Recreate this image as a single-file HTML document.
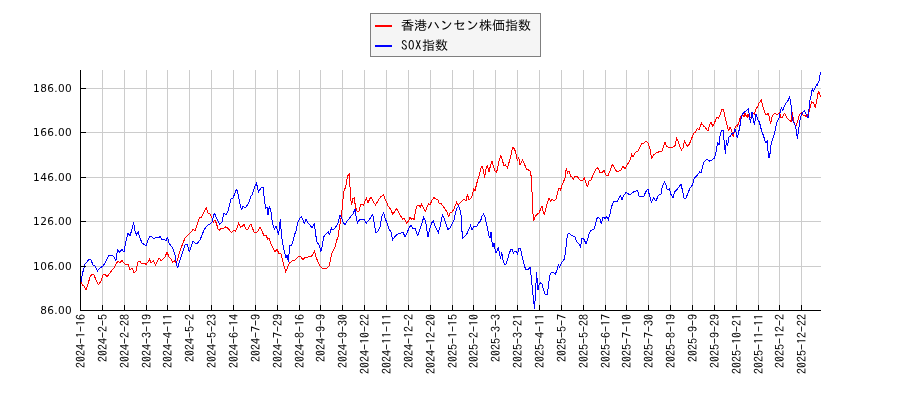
<!DOCTYPE html>
<html lang="ja"><head><meta charset="utf-8"><title>香港ハンセン株価指数 SOX指数</title>
<style>html,body{margin:0;padding:0;background:#fff}body{width:900px;height:400px;overflow:hidden}svg{display:block}.yl{font-family:"DejaVu Sans","Liberation Sans",sans-serif;font-size:10.5px;fill:#000;letter-spacing:0.36px}.xl{font-family:"IPAGothic","Liberation Mono","Noto Sans CJK JP",monospace;font-size:12px;fill:#000}.lg{font-family:"IPAGothic","Liberation Sans","Noto Sans CJK JP",sans-serif;font-size:13px;fill:#000}</style></head><body>
<svg width="900" height="400" viewBox="0 0 900 400">
<rect width="900" height="400" fill="#fff"/>
<path d="M102.50,70V310.5 M124.50,70V310.5 M146.50,70V310.5 M167.50,70V310.5 M189.50,70V310.5 M211.50,70V310.5 M233.50,70V310.5 M255.50,70V310.5 M277.50,70V310.5 M299.50,70V310.5 M320.50,70V310.5 M342.50,70V310.5 M364.50,70V310.5 M386.50,70V310.5 M408.50,70V310.5 M430.50,70V310.5 M452.50,70V310.5 M473.50,70V310.5 M495.50,70V310.5 M517.50,70V310.5 M539.50,70V310.5 M561.50,70V310.5 M583.50,70V310.5 M605.50,70V310.5 M626.50,70V310.5 M648.50,70V310.5 M670.50,70V310.5 M692.50,70V310.5 M714.50,70V310.5 M736.50,70V310.5 M758.50,70V310.5 M779.50,70V310.5 M801.50,70V310.5 M80.5,88.5H821 M80.5,132.5H821 M80.5,177.5H821 M80.5,221.5H821 M80.5,266.5H821" stroke="#cccccc" stroke-width="1" fill="none"/>
<path d="M80.4,281.0 L81.0,282.0 L82.6,285.0 L84.0,286.0 L86.0,290.0 L88.0,284.0 L90.0,277.0 L92.0,274.0 L94.0,275.0 L96.0,280.0 L98.4,284.6 L101.0,281.0 L103.0,275.0 L105.0,274.0 L107.0,277.0 L110.0,273.0 L112.0,270.0 L114.0,268.0 L116.0,264.0 L118.0,261.0 L120.0,262.6 L122.0,260.6 L124.0,263.0 L126.0,265.0 L128.0,264.0 L130.0,270.0 L132.0,268.0 L134.0,272.6 L136.0,271.0 L138.0,262.0 L140.0,261.4 L142.0,264.0 L144.0,263.0 L146.0,264.4 L148.0,262.0 L149.4,259.0 L151.0,263.0 L153.4,261.0 L155.4,265.0 L157.4,261.0 L159.0,258.0 L161.0,260.6 L163.0,259.0 L165.0,257.0 L167.0,252.0 L169.0,257.0 L171.0,259.0 L172.6,262.0 L174.6,261.0 L176.0,263.0 L177.4,260.0 L179.0,254.0 L181.0,248.0 L183.0,243.0 L185.0,238.0 L187.0,236.0 L189.0,234.0 L191.0,232.0 L193.0,229.4 L195.0,230.6 L197.4,224.0 L199.4,218.0 L201.4,217.0 L203.0,214.0 L205.0,210.0 L206.4,208.0 L208.0,213.0 L210.0,214.0 L212.0,218.0 L213.4,222.0 L215.0,220.0 L216.6,224.0 L218.0,229.0 L219.4,230.0 L221.4,228.0 L223.4,228.4 L225.4,227.0 L227.4,228.0 L229.4,230.0 L231.4,232.4 L233.4,230.4 L235.4,231.0 L237.4,227.0 L238.6,223.6 L240.6,227.0 L242.6,226.0 L244.0,224.4 L246.0,229.0 L248.0,229.0 L250.0,225.0 L251.4,224.4 L252.0,227.0 L254.0,232.0 L256.0,232.6 L258.0,231.0 L260.0,227.0 L262.0,231.0 L264.0,236.0 L266.0,235.0 L267.6,239.0 L269.0,238.0 L271.0,244.0 L273.0,248.0 L275.0,251.4 L277.0,249.4 L279.0,253.4 L281.0,254.0 L282.4,260.0 L284.0,266.0 L285.6,271.4 L287.0,269.0 L288.4,264.6 L290.0,262.6 L292.0,261.0 L295.0,260.0 L297.0,258.0 L299.0,256.0 L301.0,257.0 L303.0,260.0 L305.0,257.0 L307.0,258.0 L309.0,256.0 L311.0,257.0 L313.0,254.0 L314.4,251.0 L316.0,257.0 L318.0,262.0 L320.0,266.0 L322.0,268.0 L324.4,268.6 L327.0,268.0 L329.0,266.0 L330.4,260.0 L331.6,254.0 L333.0,251.0 L335.0,247.0 L336.4,241.0 L338.0,237.0 L339.0,230.0 L340.4,222.0 L341.6,215.0 L342.6,203.0 L344.0,191.0 L345.6,187.0 L347.6,176.0 L349.4,173.4 L350.0,187.0 L350.6,198.0 L351.6,205.0 L352.6,199.0 L354.4,198.0 L355.4,207.0 L357.0,211.0 L359.0,211.0 L360.4,205.0 L362.0,204.0 L363.6,205.0 L365.0,201.0 L366.4,198.0 L368.0,203.0 L369.6,199.0 L371.0,197.0 L373.0,201.0 L375.4,205.0 L377.4,202.0 L379.0,199.0 L381.0,196.6 L383.4,194.6 L385.0,199.0 L386.6,202.0 L388.0,206.0 L389.6,208.0 L391.0,210.0 L392.6,214.0 L394.4,212.0 L396.6,208.6 L398.6,212.0 L400.6,216.0 L402.6,219.0 L404.4,218.6 L406.4,223.0 L408.4,221.0 L410.0,217.4 L411.6,219.0 L413.0,218.0 L414.0,220.0 L415.6,210.0 L417.0,206.0 L419.0,205.0 L420.4,207.0 L421.6,204.0 L423.6,208.6 L425.6,211.4 L427.0,207.0 L428.6,204.0 L430.0,205.0 L432.0,200.0 L434.0,197.6 L436.0,199.0 L438.0,199.6 L439.4,204.0 L441.0,203.6 L443.0,206.0 L445.0,209.0 L447.0,212.0 L448.6,217.0 L450.0,213.0 L452.0,212.0 L454.0,209.0 L455.4,205.0 L456.6,202.4 L458.0,205.0 L460.0,203.0 L462.0,201.0 L464.0,199.0 L466.0,201.0 L467.4,194.4 L469.0,200.0 L471.0,198.0 L472.6,195.0 L473.6,188.0 L475.0,191.0 L476.6,184.0 L478.0,179.0 L479.4,175.0 L480.6,169.0 L482.0,166.4 L483.4,170.0 L484.6,178.0 L486.0,169.0 L487.4,165.6 L489.0,172.0 L490.6,165.0 L492.0,161.0 L493.4,166.0 L495.0,171.0 L496.6,172.4 L498.0,166.0 L499.4,159.0 L501.0,155.6 L502.6,161.0 L504.0,166.0 L505.6,165.0 L507.4,168.0 L508.6,164.0 L510.0,159.0 L511.4,153.0 L512.6,147.6 L514.4,148.4 L516.0,154.0 L517.4,161.0 L518.6,157.0 L520.0,165.0 L521.4,162.0 L522.6,160.0 L524.0,163.0 L525.6,167.0 L527.0,169.6 L528.6,170.0 L530.4,171.6 L531.4,178.0 L532.0,192.0 L532.6,204.0 L533.0,214.0 L533.6,220.6 L535.4,216.0 L537.0,214.4 L539.0,213.0 L541.0,208.0 L542.0,206.0 L543.0,211.0 L544.4,215.0 L546.0,208.0 L547.4,203.0 L549.0,198.4 L550.6,201.0 L552.0,199.0 L554.0,201.0 L556.0,199.0 L557.4,193.0 L559.0,188.0 L560.6,190.0 L562.0,185.0 L563.4,182.0 L565.0,178.0 L566.4,167.6 L567.4,173.0 L569.0,171.0 L570.6,176.0 L572.0,177.0 L573.4,179.0 L575.4,176.0 L577.0,176.0 L579.0,179.0 L581.0,181.0 L583.0,180.0 L584.4,178.0 L586.0,183.0 L587.4,187.0 L589.0,181.0 L591.0,180.0 L592.6,176.0 L594.0,173.0 L596.0,169.0 L598.0,167.6 L600.0,173.0 L602.0,172.4 L604.0,170.4 L606.0,175.0 L608.0,175.6 L610.0,171.0 L612.4,164.4 L614.4,168.0 L617.0,172.0 L619.0,171.0 L621.0,170.0 L623.0,166.0 L625.0,169.0 L627.0,165.0 L629.0,162.0 L630.4,159.0 L631.6,154.4 L633.0,157.0 L634.4,154.0 L636.0,152.0 L638.0,151.0 L640.0,147.0 L642.0,143.6 L644.0,143.0 L646.0,141.0 L648.0,143.0 L650.0,149.0 L651.6,158.0 L653.6,155.0 L656.0,153.0 L658.0,152.4 L660.0,151.0 L662.0,151.0 L663.6,146.0 L665.0,142.4 L666.6,146.0 L668.4,147.6 L670.4,147.0 L673.0,147.0 L675.0,145.6 L676.6,137.6 L678.0,141.0 L679.6,146.0 L681.4,150.0 L683.0,148.0 L684.4,141.0 L686.0,144.0 L687.6,146.4 L689.4,144.0 L691.0,140.0 L692.6,136.0 L694.0,133.0 L695.6,132.0 L697.4,128.4 L699.0,130.0 L700.4,126.0 L701.6,123.0 L703.4,126.0 L705.0,127.0 L706.6,129.6 L708.0,131.0 L709.6,125.0 L711.0,122.0 L712.6,126.0 L714.0,124.0 L715.6,120.0 L717.0,117.6 L718.4,118.4 L720.0,115.0 L721.6,110.0 L723.4,109.6 L724.6,115.0 L726.0,121.0 L727.4,127.0 L728.6,131.0 L730.0,127.0 L731.6,130.0 L733.4,137.0 L734.6,129.0 L736.1,125.6 L737.2,126.1 L738.3,123.9 L739.4,120.6 L740.6,116.7 L741.7,116.1 L742.8,114.4 L743.9,117.2 L745.0,113.3 L746.1,115.6 L747.2,117.2 L748.1,113.9 L748.9,116.7 L750.0,117.2 L751.1,118.3 L752.2,116.7 L753.3,113.3 L754.4,114.4 L755.6,110.0 L756.7,107.8 L757.8,106.7 L758.9,103.3 L760.0,101.7 L761.4,100.3 L761.7,102.2 L762.8,106.1 L764.1,110.0 L765.6,114.4 L766.7,115.0 L768.0,112.8 L768.9,115.0 L769.7,119.4 L770.6,124.4 L771.4,120.0 L772.2,116.1 L773.3,114.4 L774.8,113.3 L776.1,113.9 L777.2,115.0 L778.3,113.3 L779.4,112.8 L780.3,115.0 L781.1,117.8 L782.2,117.2 L783.3,115.6 L784.4,113.3 L785.6,115.0 L786.7,117.2 L787.8,118.9 L788.9,120.0 L790.2,120.0 L791.1,121.7 L791.7,115.6 L792.6,112.2 L793.0,116.7 L793.9,121.7 L795.0,125.0 L795.9,126.1 L797.0,123.3 L798.1,119.4 L799.2,115.6 L800.6,113.3 L801.7,112.2 L802.8,114.4 L803.9,116.1 L805.0,115.6 L806.1,116.7 L807.2,117.2 L808.3,113.3 L809.4,110.6 L810.6,105.6 L811.7,101.7 L812.8,102.2 L814.1,104.4 L815.2,107.8 L816.1,103.9 L817.0,99.4 L817.8,94.4 L818.6,91.4 L819.4,93.3 L820.3,96.1 L820.8,96.7" stroke="#ff0000" stroke-width="1" fill="none" stroke-linejoin="miter" stroke-miterlimit="3" shape-rendering="crispEdges"/>
<path d="M80.4,283.0 L81.0,282.0 L82.6,273.0 L85.0,264.0 L87.0,262.0 L89.0,259.0 L91.0,260.0 L93.0,265.0 L95.0,266.0 L97.4,271.0 L100.0,268.0 L103.0,266.0 L105.0,263.0 L107.0,259.0 L109.0,255.0 L112.0,255.0 L114.0,257.0 L116.0,260.6 L117.4,250.0 L119.4,252.0 L122.0,249.4 L124.0,252.0 L126.0,241.0 L128.0,233.0 L130.0,236.0 L132.0,229.0 L133.6,222.4 L135.0,231.0 L136.6,235.0 L138.2,232.0 L140.0,238.0 L142.0,243.0 L144.0,244.4 L146.0,245.6 L148.0,240.0 L150.0,236.0 L152.0,237.0 L154.0,239.0 L156.0,237.0 L158.0,238.0 L160.0,236.6 L162.0,240.0 L164.0,239.0 L166.0,241.0 L167.4,237.0 L169.0,243.0 L171.0,246.0 L173.0,248.6 L175.0,255.0 L176.4,263.0 L177.6,268.0 L179.0,263.0 L181.0,257.0 L183.0,251.0 L185.0,245.0 L187.0,244.0 L189.4,252.0 L191.0,247.0 L193.0,241.0 L195.0,243.0 L197.0,244.0 L200.0,240.0 L202.0,235.0 L204.0,230.0 L206.0,227.0 L208.0,225.0 L210.0,224.0 L212.0,222.0 L213.0,218.0 L214.4,213.0 L216.0,217.0 L217.4,220.0 L219.4,224.0 L222.0,222.0 L224.0,213.0 L226.0,215.0 L228.0,211.0 L230.0,203.0 L231.0,199.0 L233.0,198.0 L235.0,193.0 L236.6,189.0 L238.0,194.0 L239.4,201.0 L241.4,210.0 L243.0,206.0 L245.0,208.0 L247.4,205.0 L249.4,201.0 L251.0,196.0 L252.0,195.0 L254.0,189.0 L256.4,182.6 L258.4,192.0 L261.0,188.0 L263.0,187.0 L264.4,199.0 L265.6,208.0 L267.0,207.0 L268.0,215.0 L269.4,206.0 L271.0,212.0 L272.4,223.0 L274.4,229.0 L276.0,226.0 L277.4,230.0 L278.6,235.0 L280.4,219.0 L281.4,235.0 L283.0,245.0 L284.4,252.0 L286.0,258.0 L287.0,255.0 L288.4,262.0 L289.6,246.0 L291.6,245.0 L293.0,241.0 L294.4,235.0 L296.0,231.0 L297.6,223.0 L300.0,218.0 L301.6,217.0 L303.0,220.0 L304.4,224.0 L306.0,219.0 L308.0,223.0 L310.0,225.0 L312.0,228.0 L314.4,223.0 L315.4,233.0 L317.0,242.0 L319.0,245.0 L321.0,251.4 L322.4,245.0 L323.6,237.0 L325.0,235.0 L327.0,233.0 L328.4,232.0 L329.6,235.0 L331.4,228.0 L333.0,230.0 L335.0,228.0 L337.0,225.0 L338.4,222.0 L340.0,215.0 L341.6,218.0 L343.0,222.0 L345.0,225.0 L347.0,221.0 L349.0,219.0 L351.0,216.0 L353.0,214.0 L355.0,209.0 L356.0,216.0 L357.4,223.0 L359.4,220.0 L362.0,219.0 L364.0,219.4 L366.4,223.0 L369.0,220.0 L371.0,217.0 L372.6,214.0 L374.0,222.0 L376.0,233.0 L378.0,231.0 L380.0,227.0 L382.0,216.0 L383.6,212.6 L385.0,218.0 L387.0,223.0 L389.0,229.0 L391.0,232.0 L392.6,240.0 L394.4,237.0 L396.4,235.0 L398.4,234.0 L401.0,233.0 L403.0,232.0 L405.0,237.0 L407.0,233.0 L409.0,228.0 L411.0,225.0 L413.0,229.0 L415.0,228.0 L417.6,236.0 L420.0,229.0 L422.0,223.0 L423.6,217.4 L425.6,221.0 L426.6,229.0 L428.0,236.6 L430.0,228.0 L431.6,223.0 L433.4,221.0 L435.0,226.0 L436.6,229.0 L438.4,232.6 L440.0,227.0 L441.4,220.0 L442.6,214.6 L444.0,218.0 L446.0,224.0 L448.0,229.4 L450.0,228.0 L452.0,224.0 L454.0,220.0 L455.4,213.0 L457.0,208.0 L458.6,206.0 L460.0,210.0 L461.0,215.0 L461.6,227.0 L462.6,238.0 L464.6,236.6 L466.6,234.6 L468.0,231.0 L469.4,228.0 L470.6,225.4 L472.0,230.0 L473.6,226.6 L475.4,226.0 L477.0,226.0 L478.6,223.0 L480.6,221.0 L482.0,216.0 L483.6,214.0 L485.0,217.0 L486.0,222.0 L487.4,228.0 L489.0,236.0 L490.0,238.0 L491.0,232.0 L492.0,242.0 L493.0,247.4 L494.0,243.0 L495.0,248.6 L496.0,253.0 L497.4,250.0 L498.4,247.4 L499.4,253.0 L500.6,258.6 L501.6,252.0 L503.0,260.0 L504.4,264.0 L506.0,264.0 L507.4,260.0 L509.0,254.0 L510.6,250.0 L512.0,249.0 L513.4,253.0 L515.0,251.0 L516.4,252.0 L517.6,254.0 L519.0,248.0 L520.4,248.6 L521.6,254.0 L523.0,260.0 L524.4,266.0 L526.0,270.0 L528.0,269.4 L530.0,267.4 L531.0,275.0 L532.0,285.0 L533.0,295.0 L534.0,304.0 L534.6,308.6 L535.2,297.0 L536.0,283.0 L536.6,272.0 L537.2,281.0 L538.0,290.0 L539.0,285.0 L540.4,283.0 L542.0,284.0 L543.4,289.0 L545.0,294.0 L547.0,294.6 L548.0,289.0 L549.0,281.0 L550.0,275.0 L551.4,272.0 L553.0,272.0 L555.4,274.0 L557.0,270.0 L558.4,264.0 L559.4,267.0 L561.4,263.0 L563.0,261.0 L564.4,259.0 L565.4,253.0 L566.4,243.0 L567.4,235.0 L569.0,233.0 L571.0,235.0 L573.0,236.0 L575.0,236.6 L576.4,241.0 L578.0,243.0 L579.4,244.6 L580.6,247.4 L581.6,239.0 L583.4,238.6 L584.6,240.6 L586.0,244.0 L587.4,240.0 L589.0,234.0 L590.6,231.0 L592.0,230.0 L594.0,229.0 L595.4,225.0 L596.6,219.0 L598.0,217.4 L600.0,218.6 L601.4,224.0 L603.0,217.0 L605.0,218.4 L606.6,217.0 L608.4,219.6 L610.0,214.0 L611.4,207.0 L613.4,202.0 L615.6,201.0 L617.6,201.0 L619.0,198.0 L620.6,195.6 L622.0,200.0 L623.6,195.6 L626.0,192.4 L628.0,193.6 L630.0,195.0 L632.0,193.0 L634.0,191.6 L636.0,191.0 L637.6,190.4 L639.0,196.0 L641.0,196.4 L644.0,196.0 L645.6,192.0 L648.0,189.0 L649.6,196.0 L651.4,202.0 L653.6,198.0 L656.0,201.0 L658.0,196.0 L659.6,194.4 L661.0,194.0 L662.4,186.0 L664.4,182.0 L666.0,185.0 L667.4,190.0 L669.4,189.0 L671.0,194.4 L673.0,197.6 L674.6,192.0 L677.0,189.6 L679.0,187.0 L681.0,184.4 L682.4,190.0 L684.0,198.0 L686.0,198.0 L688.0,193.0 L690.0,188.0 L692.4,185.0 L694.0,179.0 L696.0,176.4 L698.0,174.4 L699.6,172.0 L701.0,173.0 L702.0,169.0 L703.4,163.0 L705.0,161.0 L706.0,160.0 L707.6,159.6 L709.6,161.0 L712.0,160.0 L714.4,158.0 L716.0,152.0 L717.6,143.0 L719.0,145.0 L720.0,136.0 L721.4,131.0 L723.0,130.4 L724.0,140.0 L725.4,154.0 L726.4,140.0 L727.6,146.0 L729.0,137.0 L730.4,136.0 L732.0,133.0 L733.4,133.6 L734.6,130.0 L735.0,129.4 L736.1,132.2 L737.4,138.3 L738.9,131.1 L740.0,125.6 L741.1,118.9 L742.2,113.9 L743.9,112.8 L745.6,111.1 L747.2,110.0 L748.3,108.7 L749.1,113.3 L749.8,118.9 L750.6,123.3 L751.3,115.6 L752.0,112.2 L752.8,116.7 L753.7,121.1 L754.4,125.3 L755.2,120.0 L756.1,113.9 L757.2,117.2 L758.3,120.6 L759.4,122.2 L760.6,126.7 L761.7,131.7 L762.8,133.9 L763.9,137.2 L765.0,141.1 L766.1,142.8 L767.2,140.6 L767.8,144.4 L768.0,151.0 L769.0,157.6 L770.4,152.0 L771.1,144.4 L772.2,140.6 L773.3,137.2 L774.4,133.3 L775.6,128.3 L776.7,122.8 L777.8,120.6 L778.9,118.3 L779.7,114.4 L780.6,110.6 L781.4,108.0 L782.8,110.6 L783.9,107.2 L785.6,103.3 L787.2,101.7 L788.3,100.0 L789.4,97.2 L790.6,100.6 L791.1,105.6 L791.7,111.1 L792.2,116.7 L793.0,120.6 L793.9,122.8 L795.0,125.0 L795.9,127.8 L796.7,133.3 L797.4,139.4 L798.1,133.3 L798.9,127.8 L799.7,122.2 L800.6,116.7 L801.7,113.9 L803.0,112.2 L804.4,111.1 L806.1,113.9 L807.2,116.1 L808.3,118.3 L808.9,111.1 L809.4,102.2 L809.4,101.1 L810.6,98.3 L811.4,93.3 L812.4,87.8 L813.3,91.7 L814.4,88.9 L815.6,86.7 L816.7,84.4 L817.4,85.0 L818.3,81.7 L819.1,80.6 L819.7,76.1 L820.3,73.3 L820.8,72.2" stroke="#0000ff" stroke-width="1" fill="none" stroke-linejoin="miter" stroke-miterlimit="3" shape-rendering="crispEdges"/>
<path d="M80.5,70V311.0 M80.0,310.5H821" stroke="#000" stroke-width="1" fill="none"/>
<path d="M102.50,310.5v-5.5 M124.50,310.5v-5.5 M146.50,310.5v-5.5 M167.50,310.5v-5.5 M189.50,310.5v-5.5 M211.50,310.5v-5.5 M233.50,310.5v-5.5 M255.50,310.5v-5.5 M277.50,310.5v-5.5 M299.50,310.5v-5.5 M320.50,310.5v-5.5 M342.50,310.5v-5.5 M364.50,310.5v-5.5 M386.50,310.5v-5.5 M408.50,310.5v-5.5 M430.50,310.5v-5.5 M452.50,310.5v-5.5 M473.50,310.5v-5.5 M495.50,310.5v-5.5 M517.50,310.5v-5.5 M539.50,310.5v-5.5 M561.50,310.5v-5.5 M583.50,310.5v-5.5 M605.50,310.5v-5.5 M626.50,310.5v-5.5 M648.50,310.5v-5.5 M670.50,310.5v-5.5 M692.50,310.5v-5.5 M714.50,310.5v-5.5 M736.50,310.5v-5.5 M758.50,310.5v-5.5 M779.50,310.5v-5.5 M801.50,310.5v-5.5 M80.5,88.5h5.5 M80.5,132.5h5.5 M80.5,177.5h5.5 M80.5,221.5h5.5 M80.5,266.5h5.5" stroke="#000" stroke-width="1" fill="none"/>
<text class="yl" x="72" y="92.1" text-anchor="end">186.00</text>
<text class="yl" x="72" y="136.1" text-anchor="end">166.00</text>
<text class="yl" x="72" y="181.1" text-anchor="end">146.00</text>
<text class="yl" x="72" y="225.1" text-anchor="end">126.00</text>
<text class="yl" x="72" y="270.1" text-anchor="end">106.00</text>
<text class="yl" x="72" y="314.1" text-anchor="end">86.00</text>
<text class="xl" transform="translate(85.00,314) rotate(-90)" text-anchor="end">2024-1-16</text>
<text class="xl" transform="translate(107.00,314) rotate(-90)" text-anchor="end">2024-2-5</text>
<text class="xl" transform="translate(129.00,314) rotate(-90)" text-anchor="end">2024-2-28</text>
<text class="xl" transform="translate(151.00,314) rotate(-90)" text-anchor="end">2024-3-19</text>
<text class="xl" transform="translate(172.00,314) rotate(-90)" text-anchor="end">2024-4-11</text>
<text class="xl" transform="translate(194.00,314) rotate(-90)" text-anchor="end">2024-5-2</text>
<text class="xl" transform="translate(216.00,314) rotate(-90)" text-anchor="end">2024-5-23</text>
<text class="xl" transform="translate(238.00,314) rotate(-90)" text-anchor="end">2024-6-14</text>
<text class="xl" transform="translate(260.00,314) rotate(-90)" text-anchor="end">2024-7-9</text>
<text class="xl" transform="translate(282.00,314) rotate(-90)" text-anchor="end">2024-7-29</text>
<text class="xl" transform="translate(304.00,314) rotate(-90)" text-anchor="end">2024-8-16</text>
<text class="xl" transform="translate(325.00,314) rotate(-90)" text-anchor="end">2024-9-9</text>
<text class="xl" transform="translate(347.00,314) rotate(-90)" text-anchor="end">2024-9-30</text>
<text class="xl" transform="translate(369.00,314) rotate(-90)" text-anchor="end">2024-10-22</text>
<text class="xl" transform="translate(391.00,314) rotate(-90)" text-anchor="end">2024-11-11</text>
<text class="xl" transform="translate(413.00,314) rotate(-90)" text-anchor="end">2024-12-2</text>
<text class="xl" transform="translate(435.00,314) rotate(-90)" text-anchor="end">2024-12-20</text>
<text class="xl" transform="translate(457.00,314) rotate(-90)" text-anchor="end">2025-1-15</text>
<text class="xl" transform="translate(478.00,314) rotate(-90)" text-anchor="end">2025-2-10</text>
<text class="xl" transform="translate(500.00,314) rotate(-90)" text-anchor="end">2025-3-3</text>
<text class="xl" transform="translate(522.00,314) rotate(-90)" text-anchor="end">2025-3-21</text>
<text class="xl" transform="translate(544.00,314) rotate(-90)" text-anchor="end">2025-4-11</text>
<text class="xl" transform="translate(566.00,314) rotate(-90)" text-anchor="end">2025-5-7</text>
<text class="xl" transform="translate(588.00,314) rotate(-90)" text-anchor="end">2025-5-28</text>
<text class="xl" transform="translate(610.00,314) rotate(-90)" text-anchor="end">2025-6-17</text>
<text class="xl" transform="translate(631.00,314) rotate(-90)" text-anchor="end">2025-7-10</text>
<text class="xl" transform="translate(653.00,314) rotate(-90)" text-anchor="end">2025-7-30</text>
<text class="xl" transform="translate(675.00,314) rotate(-90)" text-anchor="end">2025-8-19</text>
<text class="xl" transform="translate(697.00,314) rotate(-90)" text-anchor="end">2025-9-9</text>
<text class="xl" transform="translate(719.00,314) rotate(-90)" text-anchor="end">2025-9-29</text>
<text class="xl" transform="translate(741.00,314) rotate(-90)" text-anchor="end">2025-10-21</text>
<text class="xl" transform="translate(763.00,314) rotate(-90)" text-anchor="end">2025-11-11</text>
<text class="xl" transform="translate(784.00,314) rotate(-90)" text-anchor="end">2025-12-2</text>
<text class="xl" transform="translate(806.00,314) rotate(-90)" text-anchor="end">2025-12-22</text>
<rect x="370.5" y="13.5" width="170" height="43" fill="#f5f5f5" stroke="#7f7f7f" stroke-width="1"/>
<path d="M375,26H392" stroke="#ff0000" stroke-width="2"/>
<path d="M375,46H392" stroke="#0000ff" stroke-width="2"/>
<text class="lg" x="401" y="30">香港ハンセン株価指数</text>
<text class="lg" x="401" y="50"><tspan letter-spacing="0.5">SOX</tspan>指数</text>
</svg></body></html>
